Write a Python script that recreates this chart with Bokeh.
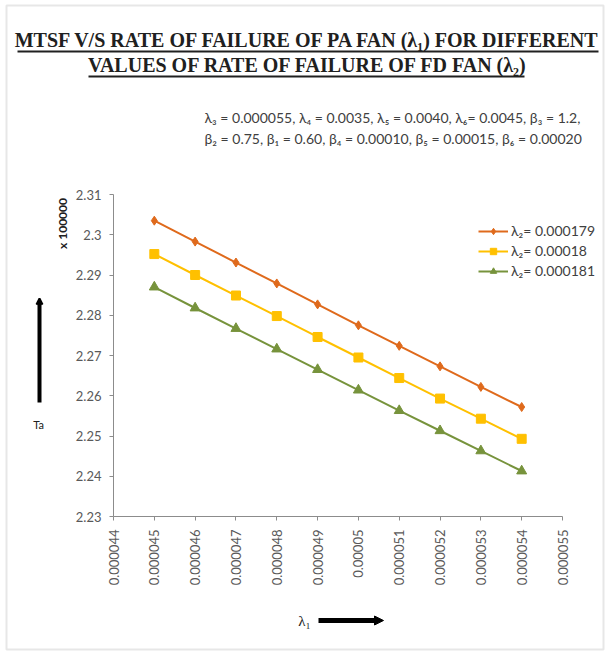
from bokeh.plotting import figure
from bokeh.models import (Label, BoxAnnotation, Arrow, NormalHead, VeeHead,
                          FixedTicker, CustomJSTickFormatter, Legend, LegendItem, Range1d)
from bokeh.embed import file_html
from bokeh.resources import INLINE

# ---- data ----
lambda1 = [0.000045, 0.000046, 0.000047, 0.000048, 0.000049,
           0.000050, 0.000051, 0.000052, 0.000053, 0.000054]
mtsf_179 = [2.3035, 2.2983, 2.2931, 2.2879, 2.2827, 2.2775, 2.2724, 2.2673, 2.2622, 2.2572]
mtsf_180 = [2.2952, 2.2900, 2.2849, 2.2798, 2.2746, 2.2695, 2.2644, 2.2593, 2.2543, 2.2493]
mtsf_181 = [2.2870, 2.2818, 2.2767, 2.2716, 2.2665, 2.2614, 2.2563, 2.2513, 2.2463, 2.2413]
series_labels = ["λ₂= 0.000179", "λ₂= 0.00018", "λ₂= 0.000181"]
x_ticks = [0.000044, 0.000045, 0.000046, 0.000047, 0.000048, 0.000049,
           0.000050, 0.000051, 0.000052, 0.000053, 0.000054, 0.000055]
y_ticks = [2.23, 2.24, 2.25, 2.26, 2.27, 2.28, 2.29, 2.30, 2.31]
title_lines = ["MTSF V/S RATE OF FAILURE OF PA FAN (λ₁) FOR  DIFFERENT",
               "VALUES OF RATE  OF FAILURE OF FD FAN (λ₂)"]
param_lines = ["λ₃ = 0.000055, λ₄ = 0.0035, λ₅ = 0.0040, λ₆= 0.0045, β₃ = 1.2,",
               "β₂ =  0.75, β₁ =  0.60, β₄ = 0.00010, β₅ = 0.00015, β₆ = 0.00020"]

W, H = 608, 652
# pixel positions of the axis extremes on the canvas (layout)
PX_X0, PX_X1 = 113, 562
PX_Y_TOP, PX_Y_BOT = 194, 516
xa, xb = x_ticks[0], x_ticks[-1]
ya, yb = y_ticks[0], y_ticks[-1]
sx = (xb - xa) / (PX_X1 - PX_X0)
sy = (yb - ya) / (PX_Y_BOT - PX_Y_TOP)
x_range = Range1d(xa - PX_X0 * sx, xb + (W - PX_X1) * sx)
y_range = Range1d(ya - (H - PX_Y_BOT) * sy, yb + PX_Y_TOP * sy)

p = figure(width=W, height=H, output_backend="svg", toolbar_location=None,
           x_range=x_range, y_range=y_range,
           min_border_left=0, min_border_right=0, min_border_top=0, min_border_bottom=0)
p.outline_line_color = None
p.grid.visible = False
p.background_fill_color = "white"
p.border_fill_color = "white"

tick_font = "Lato"
serif = "'Liberation Serif'"
p.xaxis.fixed_location = ya
p.yaxis.fixed_location = xa
p.xaxis.bounds = (xa, xb)
p.yaxis.bounds = (ya, yb)
p.xaxis.ticker = FixedTicker(ticks=x_ticks)
p.yaxis.ticker = FixedTicker(ticks=y_ticks)
p.xaxis.formatter = CustomJSTickFormatter(code="return tick.toFixed(6).replace(/0+$/, '');")
p.yaxis.formatter = CustomJSTickFormatter(code="return String(parseFloat(tick.toFixed(2)));")
p.xaxis.major_label_orientation = 1.5708
for ax in (p.xaxis, p.yaxis):
    ax.axis_line_color = "#8c8c8c"
    ax.major_tick_line_color = "#8c8c8c"
    ax.minor_tick_line_color = None
    ax.major_tick_in = 0
    ax.major_tick_out = 4
    ax.major_label_text_font = tick_font
    ax.major_label_text_font_size = "13px"
    ax.major_label_text_color = "#595959"
p.yaxis.major_label_standoff = 8
p.xaxis.major_label_standoff = 9

colors = ["#DF6A1C", "#FFC000", "#77933C"]
markers = ["diamond", "square", "triangle"]
sizes = [9, 9, 10]
items = []
for ys, c, m, s, lab in zip([mtsf_179, mtsf_180, mtsf_181], colors, markers, sizes, series_labels):
    ln = p.line(lambda1, ys, line_color=c, line_width=2)
    sc = p.scatter(lambda1, ys, marker=m, size=s, fill_color=c, line_color=c)
    items.append(LegendItem(label=lab, renderers=[ln, sc]))

legend = Legend(items=items, location=(478, 373), border_line_color=None,
                background_fill_alpha=0, padding=0, margin=0, spacing=3,
                label_text_font=tick_font, label_text_font_size="14px",
                label_text_color="#404040", glyph_width=30, glyph_height=16,
                label_height=16, label_standoff=3)
p.add_layout(legend, "center")

# frame border of the image
p.add_layout(BoxAnnotation(left=6, right=603, top=5, bottom=649,
                           left_units="canvas", right_units="canvas",
                           top_units="canvas", bottom_units="canvas",
                           fill_alpha=0, line_color="#b0b0b0", line_width=2))

# title
title_y = [39, 64]
for t, ty in zip(title_lines, title_y):
    p.add_layout(Label(x=W / 2 + 6, y=ty, x_units="canvas", y_units="canvas",
                       text=t, text_font=serif, text_font_style="bold",
                       text_font_size="20px", text_color="#202020",
                       text_align="center", text_baseline="alphabetic"))
# underlines
p.add_layout(BoxAnnotation(left=17, right=598, top=50, bottom=52,
                           left_units="canvas", right_units="canvas",
                           top_units="canvas", bottom_units="canvas",
                           fill_color="#202020", fill_alpha=1, line_color=None))
p.add_layout(BoxAnnotation(left=88, right=524, top=75, bottom=77,
                           left_units="canvas", right_units="canvas",
                           top_units="canvas", bottom_units="canvas",
                           fill_color="#202020", fill_alpha=1, line_color=None))

for i, t in enumerate(param_lines):
    p.add_layout(Label(x=204, y=117 + 21 * i, x_units="canvas", y_units="canvas",
                       text=t, text_font=tick_font, text_font_size="14px",
                       text_color="#404040", text_align="left", text_baseline="middle"))

# y-axis unit and title
p.add_layout(Label(x=62, y=223, x_units="canvas", y_units="canvas", text="x 100000",
                   angle=1.5708, text_font=tick_font, text_font_style="bold",
                   text_font_size="12px", text_color="#202020",
                   text_align="center", text_baseline="middle"))
p.add_layout(Arrow(x_start=39, y_start=402, x_end=39, y_end=298,
                   start_units="canvas", end_units="canvas",
                   line_color="black", line_width=4,
                   end=VeeHead(size=6, line_color="black", fill_color="black", line_width=2)))
p.add_layout(Label(x=38, y=424, x_units="canvas", y_units="canvas", text="Ta",
                   text_font=tick_font, text_font_size="11px", text_color="#202020",
                   text_align="center", text_baseline="middle"))
# x-axis title
p.add_layout(Label(x=304, y=620, x_units="canvas", y_units="canvas", text="λ₁",
                   text_font=serif, text_font_size="15px", text_color="#202020",
                   text_align="center", text_baseline="middle"))
p.add_layout(Arrow(x_start=318, y_start=620, x_end=383, y_end=620,
                   start_units="canvas", end_units="canvas",
                   line_color="black", line_width=5,
                   end=NormalHead(size=9, line_color="black", fill_color="black")))

open("out.html", "w").write(file_html(p, INLINE))
